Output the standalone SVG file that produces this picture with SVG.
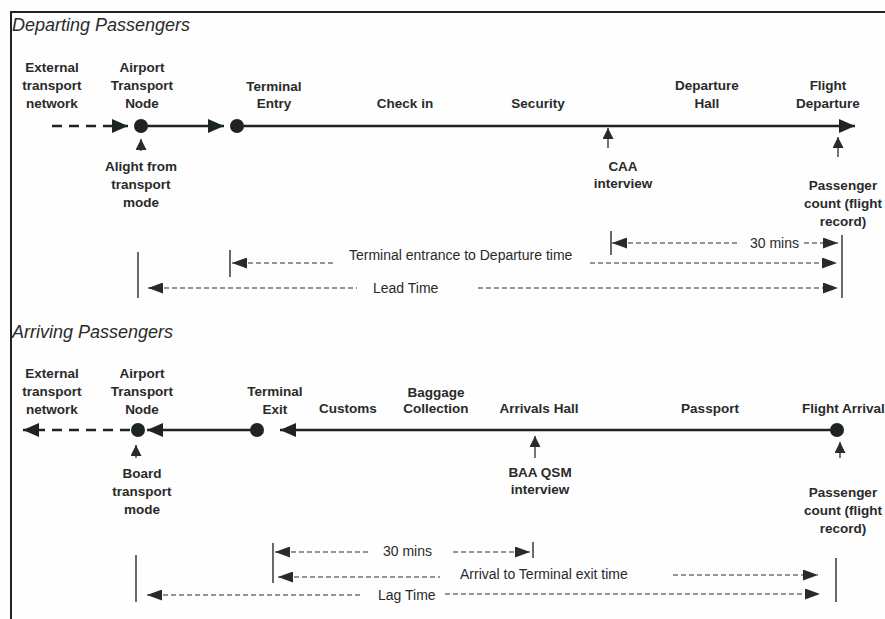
<svg xmlns="http://www.w3.org/2000/svg" width="885" height="619" viewBox="0 0 885 619">
<defs>
<style>
text{font-family:"Liberation Sans",Arial,sans-serif;fill:#2a2a2a}
.lb{font-size:13.5px;font-weight:bold;text-anchor:middle}
.ti{font-size:18px;font-style:italic}
.dm{font-size:14px}
.main{stroke:#1e2326;stroke-width:2.5;fill:none}
.mdash{stroke:#1e2326;stroke-width:2.5;fill:none;stroke-dasharray:10 7}
.dim{stroke:#2a2a2a;stroke-width:1.2;fill:none;stroke-dasharray:5 3}
.bar{stroke:#2a2a2a;stroke-width:1.4}
.up{stroke:#2a2a2a;stroke-width:1.3}
.dot{fill:#1e2326}
</style>
<marker id="ah" viewBox="0 0 16 14" refX="16" refY="7" markerWidth="16" markerHeight="14" markerUnits="userSpaceOnUse" orient="auto-start-reverse"><path d="M0,0 L16,7 L0,14 z" fill="#1e2326"/></marker>
<marker id="ad" viewBox="0 0 15 11" refX="15" refY="5.5" markerWidth="15" markerHeight="11" markerUnits="userSpaceOnUse" orient="auto-start-reverse"><path d="M0,0 L15,5.5 L0,11 z" fill="#2a2a2a"/></marker>
<marker id="au" viewBox="0 0 11 11" refX="11" refY="5.5" markerWidth="11" markerHeight="11" markerUnits="userSpaceOnUse" orient="auto"><path d="M0,0 L11,5.5 L0,11 z" fill="#2a2a2a"/></marker>
</defs>
<rect width="885" height="619" fill="#fefefe"/>
<g id="frame"><path d="M11,619 V12 H885" fill="none" stroke="#222" stroke-width="2"/></g>

<g id="titles">
<text class="ti" x="12" y="31">Departing Passengers</text>
<text class="ti" x="12" y="338">Arriving Passengers</text>
</g>

<!-- Departing nodes -->
<g id="dep-external"><text class="lb" x="52" y="72">External</text><text class="lb" x="52" y="90">transport</text><text class="lb" x="52" y="108">network</text></g>
<g id="dep-airport"><text class="lb" x="142" y="72">Airport</text><text class="lb" x="142" y="90">Transport</text><text class="lb" x="142" y="108">Node</text><circle class="dot" cx="141" cy="126" r="7"/></g>
<g id="dep-alight"><text class="lb" x="141" y="171">Alight from</text><text class="lb" x="141" y="189">transport</text><text class="lb" x="141" y="207">mode</text></g>
<g id="dep-terminal"><text class="lb" x="274" y="91">Terminal</text><text class="lb" x="274" y="108">Entry</text><circle class="dot" cx="237" cy="126" r="7"/></g>
<g id="dep-checkin"><text class="lb" x="405" y="108">Check in</text></g>
<g id="dep-security"><text class="lb" x="538" y="108">Security</text></g>
<g id="dep-hall"><text class="lb" x="707" y="90">Departure</text><text class="lb" x="707" y="108">Hall</text></g>
<g id="dep-flight"><text class="lb" x="828" y="90">Flight</text><text class="lb" x="828" y="108">Departure</text></g>
<g id="dep-caa"><text class="lb" x="623" y="171">CAA</text><text class="lb" x="623" y="188">interview</text></g>
<g id="dep-count"><text class="lb" x="843" y="190">Passenger</text><text class="lb" x="843" y="208">count (flight</text><text class="lb" x="843" y="226">record)</text></g>
<g id="dep-dimlabels">
<text class="dm" x="750" y="248">30 mins</text>
<text class="dm" x="349" y="260">Terminal entrance to Departure time</text>
<text class="dm" x="373" y="293">Lead Time</text>
</g>

<!-- Arriving nodes -->
<g id="arr-external"><text class="lb" x="52" y="378">External</text><text class="lb" x="52" y="396">transport</text><text class="lb" x="52" y="414">network</text></g>
<g id="arr-airport"><text class="lb" x="142" y="378">Airport</text><text class="lb" x="142" y="396">Transport</text><text class="lb" x="142" y="414">Node</text><circle class="dot" cx="138" cy="430" r="7"/></g>
<g id="arr-board"><text class="lb" x="142" y="478">Board</text><text class="lb" x="142" y="496">transport</text><text class="lb" x="142" y="514">mode</text></g>
<g id="arr-terminal"><text class="lb" x="275" y="396">Terminal</text><text class="lb" x="275" y="414">Exit</text><circle class="dot" cx="257" cy="430" r="7"/></g>
<g id="arr-customs"><text class="lb" x="348" y="413">Customs</text></g>
<g id="arr-baggage"><text class="lb" x="436" y="397">Baggage</text><text class="lb" x="436" y="413">Collection</text></g>
<g id="arr-hall"><text class="lb" x="539" y="413">Arrivals Hall</text></g>
<g id="arr-passport"><text class="lb" x="710" y="413">Passport</text></g>
<g id="arr-flight"><text class="lb" x="802" y="413" style="text-anchor:start">Flight Arrival</text><circle class="dot" cx="837" cy="430" r="7"/></g>
<g id="arr-baa"><text class="lb" x="540" y="477">BAA QSM</text><text class="lb" x="540" y="494">interview</text></g>
<g id="arr-count"><text class="lb" x="843" y="497">Passenger</text><text class="lb" x="843" y="515">count (flight</text><text class="lb" x="843" y="533">record)</text></g>
<g id="arr-dimlabels">
<text class="dm" x="383" y="556">30 mins</text>
<text class="dm" x="460" y="579">Arrival to Terminal exit time</text>
<text class="dm" x="378" y="600">Lag Time</text>
</g>

<g id="connectors">
<!-- departing main flow -->
<line class="mdash" x1="52" y1="126" x2="128" y2="126" marker-end="url(#ah)"/>
<line class="main" x1="141" y1="126" x2="224" y2="126" marker-end="url(#ah)"/>
<line class="main" x1="237" y1="126" x2="855" y2="126" marker-end="url(#ah)"/>
<line class="up" x1="141" y1="151" x2="141" y2="139" marker-end="url(#au)"/>
<line class="up" x1="608" y1="148" x2="608" y2="128" marker-end="url(#au)"/>
<line class="up" x1="838" y1="157" x2="838" y2="137" marker-end="url(#au)"/>
<!-- departing dimensions -->
<line class="bar" x1="611" y1="231" x2="611" y2="255"/>
<line class="bar" x1="842" y1="235" x2="842" y2="298"/>
<line class="bar" x1="230" y1="250" x2="230" y2="277"/>
<line class="bar" x1="138" y1="252" x2="138" y2="298"/>
<line class="dim" x1="612" y1="243" x2="737" y2="243" marker-start="url(#ad)"/>
<line class="dim" x1="804" y1="243" x2="838" y2="243" marker-end="url(#ad)"/>
<line class="dim" x1="232" y1="263" x2="333" y2="263" marker-start="url(#ad)"/>
<line class="dim" x1="590" y1="263" x2="837" y2="263" marker-end="url(#ad)"/>
<line class="dim" x1="148" y1="288" x2="357" y2="288" marker-start="url(#ad)"/>
<line class="dim" x1="478" y1="288" x2="838" y2="288" marker-end="url(#ad)"/>
<!-- arriving main flow -->
<line class="mdash" x1="130" y1="430" x2="23" y2="430" marker-end="url(#ah)"/>
<line class="main" x1="257" y1="430" x2="147" y2="430" marker-end="url(#ah)"/>
<line class="main" x1="837" y1="430" x2="280" y2="430" marker-end="url(#ah)"/>
<line class="up" x1="136" y1="458" x2="136" y2="445" marker-end="url(#au)"/>
<line class="up" x1="535" y1="458" x2="535" y2="436" marker-end="url(#au)"/>
<line class="up" x1="840" y1="458" x2="840" y2="442" marker-end="url(#au)"/>
<!-- arriving dimensions -->
<line class="bar" x1="273" y1="543" x2="273" y2="583"/>
<line class="bar" x1="533" y1="542" x2="533" y2="558"/>
<line class="bar" x1="136" y1="555" x2="136" y2="602"/>
<line class="bar" x1="836" y1="558" x2="836" y2="602"/>
<line class="dim" x1="275" y1="552" x2="370" y2="552" marker-start="url(#ad)"/>
<line class="dim" x1="453" y1="552" x2="530" y2="552" marker-end="url(#ad)"/>
<line class="dim" x1="278" y1="577" x2="440" y2="577" marker-start="url(#ad)"/>
<line class="dim" x1="673" y1="575" x2="818" y2="575" marker-end="url(#ad)"/>
<line class="dim" x1="147" y1="595" x2="362" y2="595" marker-start="url(#ad)"/>
<line class="dim" x1="445" y1="594" x2="820" y2="594" marker-end="url(#ad)"/>
</g>
</svg>
